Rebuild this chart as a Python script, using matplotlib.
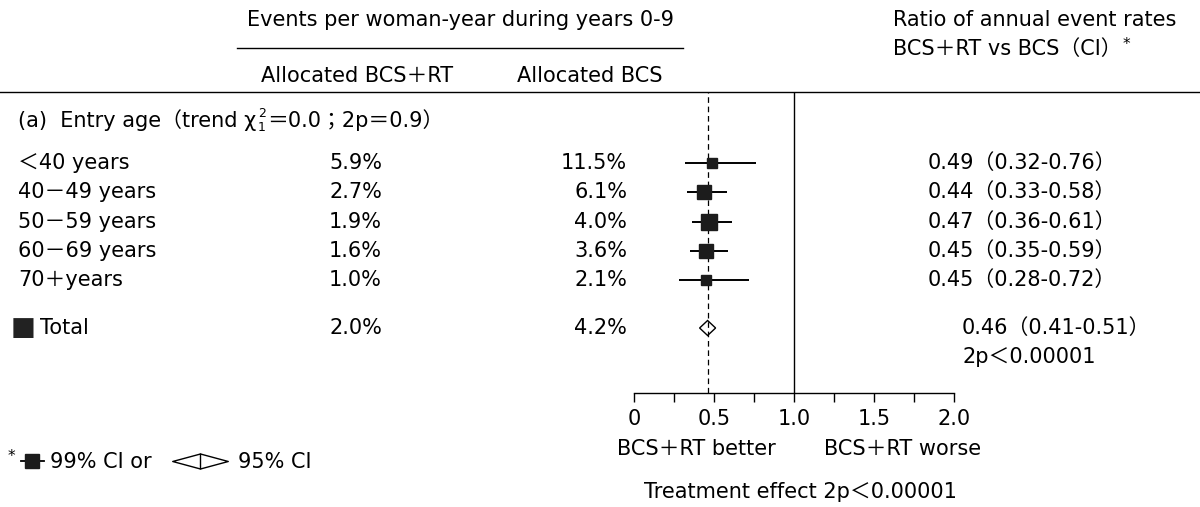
import matplotlib
matplotlib.use('Agg')
import matplotlib.pyplot as plt
from matplotlib.lines import Line2D
from matplotlib.path import Path
from matplotlib.transforms import blended_transform_factory

# Latin text in DejaVu, full-width signs fall back to the CJK font
plt.rcParams['font.family'] = ['DejaVu Sans', 'Noto Sans CJK JP']

# data
groups = ['＜40 years', '40－49 years', '50－59 years', '60－69 years', '70＋years']
rate_rt = [5.9, 2.7, 1.9, 1.6, 1.0]
rate_bcs = [11.5, 6.1, 4.0, 3.6, 2.1]
ratio = [0.49, 0.44, 0.47, 0.45, 0.45]
ci_low = [0.32, 0.33, 0.36, 0.35, 0.28]
ci_high = [0.76, 0.58, 0.61, 0.59, 0.72]
total_rt = 2.0
total_bcs = 4.2
total_ratio = 0.46
total_low = 0.41
total_high = 0.51
ticks = [0, 0.5, 1.0, 1.5, 2.0]
tick_labels = ['0', '0.5', '1.0', '1.5', '2.0']

W, H = 1200, 507
fs = 15


def fx(px):
    return px / W


def fy(py):
    return 1 - py / H


fig = plt.figure(figsize=(12, 5.07), dpi=100)
fig.patch.set_facecolor('white')

# forest axes: x = ratio, y = row number (one row = 29.25 px)
row_h = 29.25
ax = fig.add_axes([fx(634), fy(393), fx(954) - fx(634), fy(92) - fy(393)])
ax.set_xlim(0, 2)
ax.set_ylim((393 - 163) / row_h, (92 - 163) / row_h)
rows = list(range(len(groups)))
total_y = (328 - 163) / row_h
p_y = (357 - 163) / row_h
head_y = (120 - 163) / row_h

for s in ['top', 'right', 'left']:
    ax.spines[s].set_visible(False)
ax.spines['bottom'].set_linewidth(1)
ax.set_yticks([])
ax.set_xticks(ticks)
ax.set_xticklabels(tick_labels)
ax.set_xticks([0.25, 0.75, 1.25, 1.75], minor=True)
ax.tick_params(axis='x', which='both', direction='out', length=6.5, width=1, pad=5, labelsize=fs)

ax.axvline(1.0, color='k', lw=1, zorder=1)
ax.axvline(total_ratio, color='k', lw=0.9, ls=(0, (4.5, 3)), zorder=3)

box_pt = [7, 10, 11, 10.5, 7.5]
for y, r, lo, hi, b in zip(rows, ratio, ci_low, ci_high, box_pt):
    ax.plot([lo, hi], [y, y], color='k', lw=1.4, solid_capstyle='butt', zorder=2)
    ax.plot(r, y, marker='s', ms=b, color='#1c1c1c', zorder=4)

dh = 7.5 / row_h
ax.fill([total_low, total_ratio, total_high, total_ratio],
        [total_y, total_y - dh, total_y, total_y + dh],
        facecolor='white', edgecolor='k', lw=1, zorder=2)

# rules
fig.add_artist(Line2D([0, 1], [fy(92), fy(92)], color='k', lw=1, transform=fig.transFigure))
fig.add_artist(Line2D([fx(237), fx(683)], [fy(48), fy(48)], color='k', lw=1, transform=fig.transFigure))

# headers
fig.text(fx(460), fy(20), 'Events per woman-year during years 0-9', ha='center', va='center', fontsize=fs)
fig.text(fx(357), fy(76), 'Allocated BCS＋RT', ha='center', va='center', fontsize=fs)
fig.text(fx(590), fy(76), 'Allocated BCS', ha='center', va='center', fontsize=fs)
fig.text(fx(893), fy(20), 'Ratio of annual event rates', ha='left', va='center', fontsize=fs)
t_ci = fig.text(fx(893), fy(49), 'BCS＋RT vs BCS（CI）', ha='left', va='center', fontsize=fs)
ax.annotate('*', xy=(1, 0.5), xycoords=t_ci, xytext=(0.5, 3), textcoords='offset points',
            ha='left', va='center', fontsize=11, annotation_clip=False)

# table rows, aligned with forest rows
tr = blended_transform_factory(fig.transFigure, ax.transData)
t_a = ax.text(fx(18), head_y, '(a)  Entry age（trend χ', transform=tr, ha='left', va='center', fontsize=fs)
t_2 = ax.annotate('2', xy=(1, 0.5), xycoords=t_a, xytext=(1, 5), textcoords='offset points',
                  ha='left', va='center', fontsize=9, annotation_clip=False)
ax.annotate('1', xy=(1, 0.5), xycoords=t_a, xytext=(1, -5.5), textcoords='offset points',
            ha='left', va='center', fontsize=9, annotation_clip=False)
ax.annotate('＝0.0；2p＝0.9）', xy=(1, 0.5), xycoords=(t_2, t_a), xytext=(1, 0), textcoords='offset points',
            ha='left', va='center', fontsize=fs, annotation_clip=False)

for y, g, a, b, r, lo, hi in zip(rows, groups, rate_rt, rate_bcs, ratio, ci_low, ci_high):
    ax.text(fx(18), y, g, transform=tr, ha='left', va='center', fontsize=fs)
    ax.text(fx(382), y, f'{a:.1f}%', transform=tr, ha='right', va='center', fontsize=fs)
    ax.text(fx(627), y, f'{b:.1f}%', transform=tr, ha='right', va='center', fontsize=fs)
    ax.text(fx(928), y, f'{r:.2f}（{lo:.2f}-{hi:.2f}）', transform=tr, ha='left', va='center', fontsize=fs)

ax.text(fx(11), total_y, '■', transform=tr, ha='left', va='center', fontsize=19, color='#222222')
ax.text(fx(40), total_y, 'Total', transform=tr, ha='left', va='center', fontsize=fs)
ax.text(fx(382), total_y, f'{total_rt:.1f}%', transform=tr, ha='right', va='center', fontsize=fs)
ax.text(fx(627), total_y, f'{total_bcs:.1f}%', transform=tr, ha='right', va='center', fontsize=fs)
ax.text(fx(962), total_y, f'{total_ratio:.2f}（{total_low:.2f}-{total_high:.2f}）',
        transform=tr, ha='left', va='center', fontsize=fs)
ax.text(fx(962), p_y, '2p＜0.00001', transform=tr, ha='left', va='center', fontsize=fs)

# labels under the axis
tb = blended_transform_factory(ax.transData, fig.transFigure)
ax.text(0.39, fy(449), 'BCS＋RT better', transform=tb, ha='center', va='center', fontsize=fs)
ax.text(1.68, fy(449), 'BCS＋RT worse', transform=tb, ha='center', va='center', fontsize=fs)
ax.text(1.04, fy(492), 'Treatment effect 2p＜0.00001', transform=tb, ha='center', va='center', fontsize=fs)

# key at bottom left
fig.text(fx(8), fy(456), '*', ha='left', va='center', fontsize=11)
h_box = Line2D([], [], color='k', lw=1.3, marker='s', ms=9.5, mfc='#1c1c1c', mec='#1c1c1c')
leg1 = fig.legend([h_box], ['99% CI or'], loc='center left', bbox_to_anchor=(fx(21), fy(462)),
                  frameon=False, handlelength=1.1, handletextpad=0.3, borderpad=0,
                  borderaxespad=0, fontsize=fs)
diamond = Path([(-1, 0), (0, 0.27), (1, 0), (0, -0.27), (-1, 0)],
               [Path.MOVETO, Path.LINETO, Path.LINETO, Path.LINETO, Path.CLOSEPOLY])
h_dia = Line2D([], [], ls='none', marker=diamond, ms=40, mfc='white', mec='k', mew=1)
h_bar = Line2D([], [], ls='none', marker='|', ms=11, color='k', mew=1)
leg2 = fig.legend([(h_dia, h_bar)], ['95% CI'], loc='center left', bbox_to_anchor=(fx(172), fy(462)),
                  frameon=False, handlelength=2.7, handletextpad=0.45, borderpad=0,
                  borderaxespad=0, fontsize=fs)

fig.savefig('out.png', dpi=100)
